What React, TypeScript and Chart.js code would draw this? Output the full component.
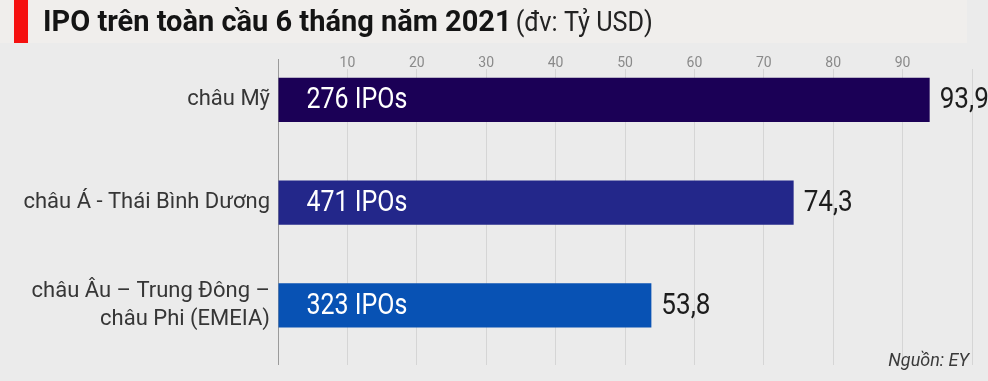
import React, { useEffect, useRef } from 'react';
import { Chart, registerables } from 'chart.js';

Chart.register(...registerables);

const titleMain = 'IPO trên toàn cầu 6 tháng năm 2021';
const titleUnit = '(đv: Tỷ USD)';
const sourceText = 'Nguồn: EY';
const regions: (string | string[])[] = [
  'châu Mỹ',
  'châu Á - Thái Bình Dương',
  ['châu Âu – Trung Đông –', 'châu Phi (EMEIA)'],
];
const values = [93.9, 74.3, 53.8];
const ipoCounts = [276, 471, 323];
const barColors = ['#1b0056', '#23278a', '#0852b4'];
const xTickValues = [10, 20, 30, 40, 50, 60, 70, 80, 90];

const fmt = (v: number) => v.toFixed(1).replace('.', ',');

const decorPlugin = {
  id: 'decor',
  beforeDraw(chart: any) {
    const { ctx, width, height } = chart;
    ctx.save();
    ctx.fillStyle = '#ebebeb';
    ctx.fillRect(0, 0, width, height);
    ctx.fillStyle = '#f0eeec';
    ctx.fillRect(0, 0, 967, 43);
    ctx.fillStyle = '#f5100f';
    ctx.fillRect(14, 0, 14, 43);
    ctx.textBaseline = 'alphabetic';
    ctx.textAlign = 'left';
    ctx.fillStyle = '#141414';
    ctx.font = 'bold 29px Roboto';
    ctx.fillText(titleMain, 43, 31);
    const w = ctx.measureText(titleMain).width;
    ctx.font = '28px Roboto';
    ctx.fillStyle = '#222';
    ctx.translate(43 + w + 4, 31);
    ctx.scale(0.9, 1);
    ctx.fillText(titleUnit, 0, 0);
    ctx.restore();
  },
  afterDatasetsDraw(chart: any) {
    const { ctx } = chart;
    const meta = chart.getDatasetMeta(0);
    ctx.save();
    ctx.textBaseline = 'middle';
    ctx.textAlign = 'left';
    meta.data.forEach((bar: any, i: number) => {
      ctx.save();
      ctx.fillStyle = '#ffffff';
      ctx.font = '29px Roboto';
      ctx.translate(bar.base + 28, bar.y + 1);
      ctx.scale(0.86, 1);
      ctx.fillText(`${ipoCounts[i]} IPOs`, 0, 0);
      ctx.restore();
      ctx.save();
      ctx.fillStyle = '#1c1c1c';
      ctx.font = '29px Roboto';
      ctx.translate(bar.x + 10, bar.y + 1);
      ctx.scale(0.9, 1);
      ctx.fillText(fmt(values[i]), 0, 0);
      ctx.restore();
    });
    ctx.restore();
  },
  afterDraw(chart: any) {
    const { ctx, chartArea } = chart;
    const x0 = Math.round(chart.scales.x.getPixelForValue(0)) + 0.5;
    ctx.save();
    ctx.strokeStyle = '#9a9a9a';
    ctx.lineWidth = 1;
    ctx.beginPath();
    ctx.moveTo(x0, 59);
    ctx.lineTo(x0, chartArea.top + 1);
    ctx.stroke();
    ctx.fillStyle = '#3a3a3a';
    ctx.font = 'italic 18px Roboto';
    ctx.textAlign = 'right';
    ctx.textBaseline = 'alphabetic';
    ctx.fillText(sourceText, 969, 366);
    ctx.restore();
  },
};

export default function App() {
  const canvasRef = useRef<HTMLCanvasElement | null>(null);

  useEffect(() => {
    document.body.style.margin = '0';
    const canvas = canvasRef.current;
    if (!canvas) return;
    const chart = new Chart(canvas, {
      type: 'bar',
      data: {
        datasets: [
          {
            data: values.map((v, i) => ({ x: v, y: i })),
            backgroundColor: barColors,
            borderWidth: 0,
            categoryPercentage: 1,
            barPercentage: 0.43,
          } as any,
        ],
      },
      options: {
        indexAxis: 'y',
        responsive: false,
        animation: false,
        devicePixelRatio: 1,
        layout: { padding: { left: 0, right: 16, top: 0, bottom: 16 } },
        font: { family: 'Roboto' },
        plugins: {
          legend: { display: false },
          tooltip: { enabled: false },
        },
        scales: {
          x: {
            type: 'linear',
            position: 'top',
            min: 0,
            max: 100,
            offset: false,
            afterBuildTicks: (scale: any) => {
              scale.ticks = [0, ...xTickValues, 100].map((v) => ({ value: v }));
            },
            ticks: {
              autoSkip: false,
              maxRotation: 0,
              padding: -3,
              color: '#8a8a8a',
              font: { family: 'Roboto', size: 14 },
              callback: (v: any) => (xTickValues.includes(Number(v)) ? String(v) : ''),
            },
            grid: {
              drawTicks: false,
              offset: false,
              lineWidth: 1,
              color: (c: any) => (c.tick && c.tick.value === 0 ? '#9a9a9a' : '#d5d5d5'),
            },
            border: { display: false },
            afterFit: (scale: any) => {
              scale.height = 69;
              scale.paddingLeft = 0;
              scale.paddingRight = 0;
            },
          },
          y: {
            type: 'linear',
            reverse: true,
            min: -0.3,
            max: 2.58,
            offset: false,
            afterBuildTicks: (scale: any) => {
              scale.ticks = regions.map((_, i) => ({ value: i }));
            },
            ticks: {
              autoSkip: false,
              padding: 8,
              color: '#363636',
              font: { family: 'Roboto', size: 22, lineHeight: 1.27 },
              callback: (v: any) => regions[Number(v)] ?? '',
            },
            grid: { display: false, drawTicks: false, offset: false },
            border: { display: false },
            afterFit: (scale: any) => {
              scale.width = 278;
              scale.paddingTop = 0;
              scale.paddingBottom = 0;
            },
          },
        },
      } as any,
      plugins: [decorPlugin],
    });
    return () => chart.destroy();
  }, []);

  return (
    <div style={{ width: 988, height: 381 }}>
      <canvas ref={canvasRef} width={988} height={381} />
    </div>
  );
}
